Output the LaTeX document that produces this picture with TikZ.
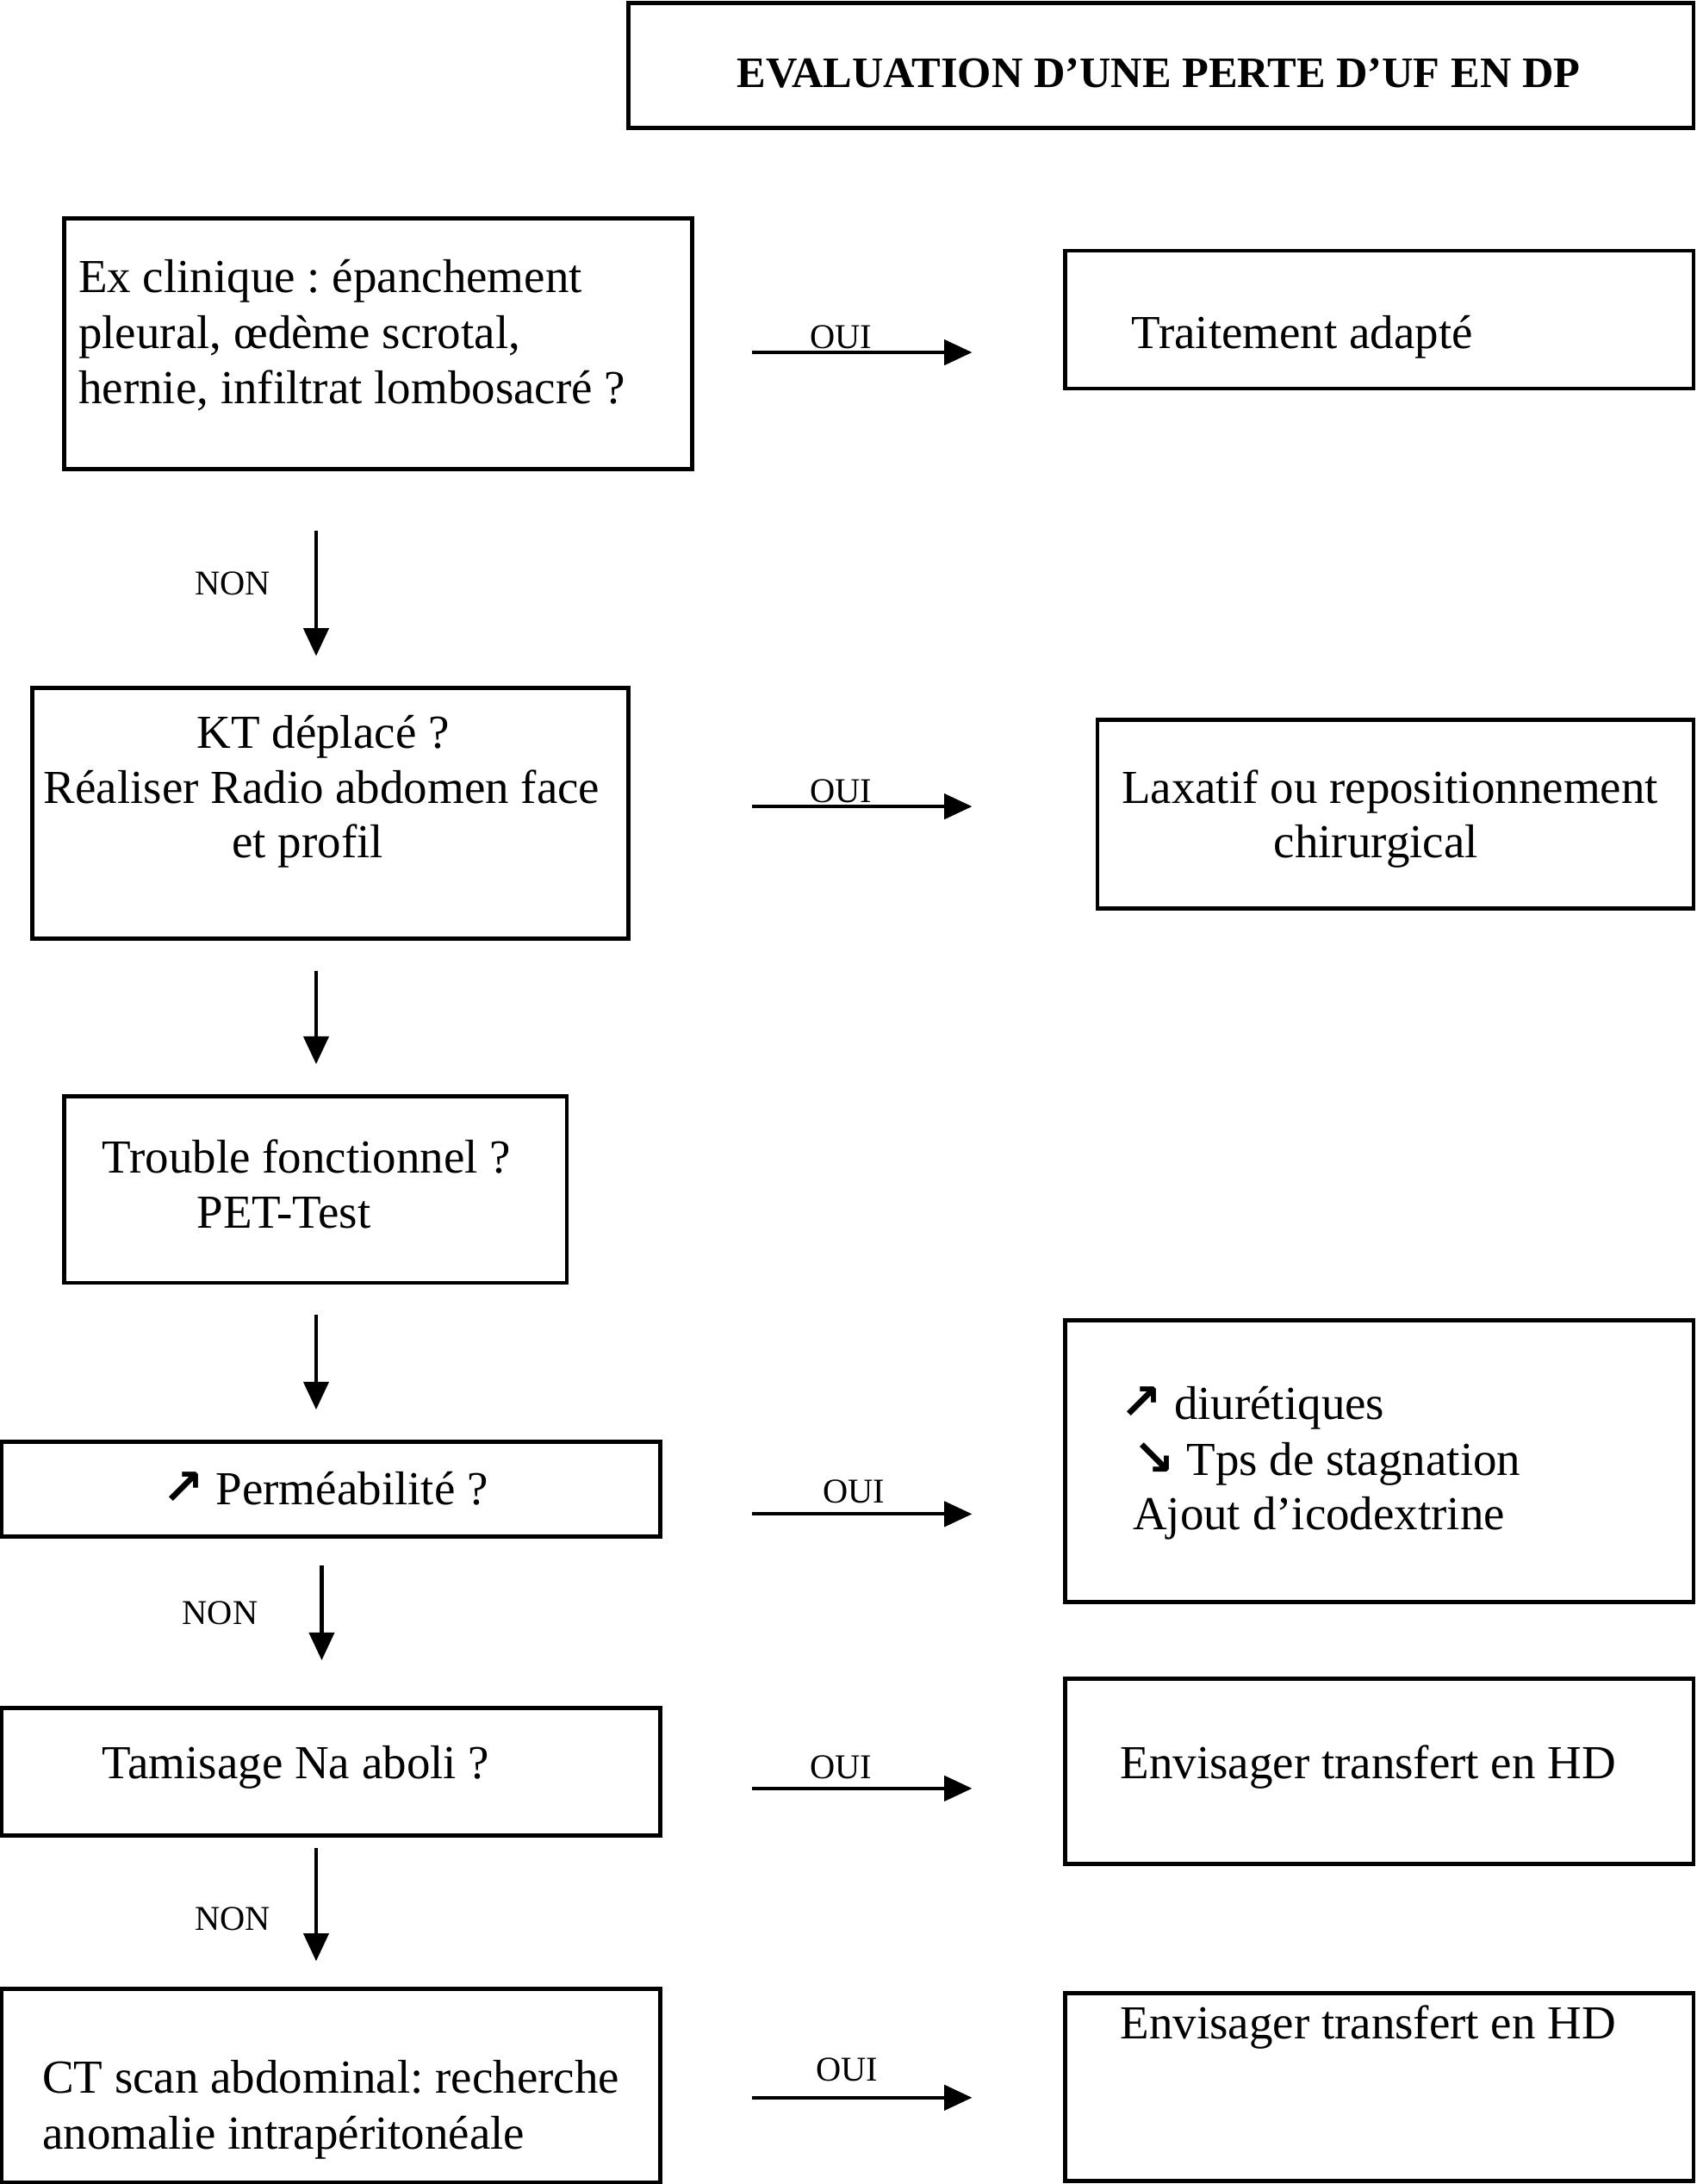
\documentclass[tikz,border=0pt]{standalone}
\usepackage{fontspec}
\setmainfont{Liberation Serif}
\newfontfamily\arrfont{DejaVu Sans}
\usetikzlibrary{arrows.meta}
\frenchspacing
\newcommand{\NE}{{\arrfont\bfseries\fontsize{18}{20}\selectfont ↗}}
\newcommand{\SE}{{\arrfont\bfseries\fontsize{18}{20}\selectfont ↘}}
\begin{document}
\begin{tikzpicture}[x=0.5pt,y=-0.5pt,
  box/.style={draw,line width=1.5pt,inner sep=0pt},
  txt/.style={inner sep=0pt,font=\fontsize{17}{20}\selectfont},
  lw/.style={txt,anchor=base west},
  lc/.style={txt,anchor=base},
  lab/.style={inner sep=0pt,anchor=base,font=\fontsize{12.5}{15}\selectfont},
  arr/.style={line width=1.3pt,-{Triangle[length=10pt,width=9pt]}}]
\useasboundingbox (0,0) rectangle (1218,1568);
% boxes
\node[box,minimum width=382.5pt,minimum height=45pt] (title) at (833.5,47) {};
\node[box,minimum width=225.5pt,minimum height=90pt] (ex) at (271.5,247) {};
\node[box,minimum width=225.5pt,minimum height=49.5pt] (trait) at (990.5,229.5) {};
\node[box,minimum width=214pt,minimum height=90pt] (kt) at (237,584) {};
\node[box,minimum width=214pt,minimum height=67.5pt] (lax) at (1002,584.5) {};
\node[box,minimum width=180.5pt,minimum height=67pt] (trouble) at (226.5,854) {};
\node[box,minimum width=236.5pt,minimum height=34pt] (perm) at (237.5,1069) {};
\node[box,minimum width=225.5pt,minimum height=101pt] (diur) at (990.5,1049) {};
\node[box,minimum width=236.5pt,minimum height=46pt] (tamis) at (237.5,1272) {};
\node[box,minimum width=225.5pt,minimum height=66.5pt] (hd1) at (990.5,1271.5) {};
\node[box,minimum width=236.5pt,minimum height=69.5pt] (ct) at (237.5,1497.5) {};
\node[box,minimum width=225.5pt,minimum height=67.5pt] (hd2) at (990.5,1498.5) {};
% texts
\node[inner sep=0pt,anchor=base,font=\bfseries\fontsize{15.6}{18}\selectfont] (tt) at (832,63) {EVALUATION D’UNE PERTE D’UF EN DP};
\node[lw] (ex1) at (56,210) {Ex clinique : épanchement};
\node[lw] (ex2) at (56,250) {pleural, œdème scrotal,};
\node[lw] (ex3) at (56,290) {hernie, infiltrat lombosacré ?};
\node[lw] (tr1) at (812,250) {Traitement adapté};
\node[lc] (kt1) at (232,537) {KT déplacé ?};
\node[lc] (kt2) at (231,577) {Réaliser Radio abdomen face};
\node[lc] (kt3) at (221,616) {et profil};
\node[lc] (lx1) at (998,577) {Laxatif ou repositionnement};
\node[lc] (lx2) at (988,616) {chirurgical};
\node[lw] (to1) at (73,842) {Trouble fonctionnel ?};
\node[lw] (to2) at (141,882) {PET-Test};
\node[lw] (pe1) at (116,1080) {\NE\ Perméabilité ?};
\node[lw] (di1) at (804,1019) {\NE\ diurétiques};
\node[lw] (di2) at (813,1059) {\SE\ Tps de stagnation};
\node[lw] (di3) at (813,1098) {Ajout d’icodextrine};
\node[lw] (ta1) at (73,1277) {Tamisage Na aboli ?};
\node[lw] (hd1t) at (804,1277) {Envisager transfert en HD};
\node[lw] (ct1) at (30,1503) {CT scan abdominal: recherche};
\node[lw] (ct2) at (30,1543) {anomalie intrapéritonéale};
\node[lw] (hd2t) at (804,1464) {Envisager transfert en HD};
% connector end points
\coordinate (h1s) at (540,253);  \coordinate (h1e) at (698,253);
\coordinate (h2s) at (540,579);  \coordinate (h2e) at (698,579);
\coordinate (h3s) at (540,1087); \coordinate (h3e) at (698,1087);
\coordinate (h4s) at (540,1284); \coordinate (h4e) at (698,1284);
\coordinate (h5s) at (540,1506); \coordinate (h5e) at (698,1506);
\coordinate (v1s) at (227,381);  \coordinate (v1e) at (227,471);
\coordinate (v2s) at (227,697);  \coordinate (v2e) at (227,764);
\coordinate (v3s) at (227,944);  \coordinate (v3e) at (227,1012);
\coordinate (v4s) at (231,1124); \coordinate (v4e) at (231,1192);
\coordinate (v5s) at (227,1327); \coordinate (v5e) at (227,1408);
% connectors
\draw[arr] (h1s) -- (h1e);
\draw[arr] (h2s) -- (h2e);
\draw[arr] (h3s) -- (h3e);
\draw[arr] (h4s) -- (h4e);
\draw[arr] (h5s) -- (h5e);
\draw[arr] (v1s) -- (v1e);
\draw[arr] (v2s) -- (v2e);
\draw[arr] (v3s) -- (v3e);
\draw[arr] (v4s) -- (v4e);
\draw[arr] (v5s) -- (v5e);
% labels
\node[lab] (o1) at (604,250) {OUI};
\node[lab] (o2) at (604,576) {OUI};
\node[lab] (o3) at (613,1079) {OUI};
\node[lab] (o4) at (604,1277) {OUI};
\node[lab] (o5) at (608,1494) {OUI};
\node[lab] (n1) at (167,427) {NON};
\node[lab] (n2) at (158,1166) {NON};
\node[lab] (n3) at (167,1386) {NON};
\end{tikzpicture}
\end{document}
